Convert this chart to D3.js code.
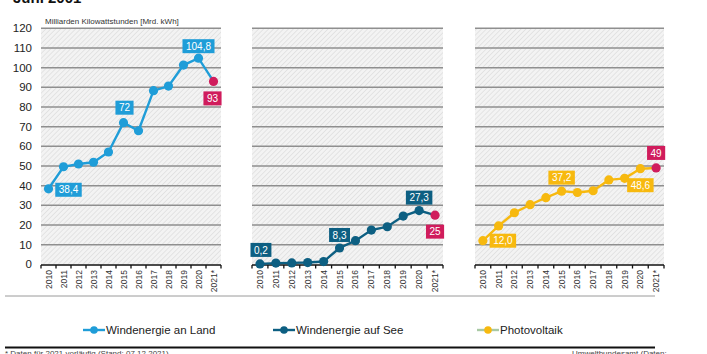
<!DOCTYPE html>
<html>
<head>
<meta charset="utf-8">
<script src="https://cdn.jsdelivr.net/npm/d3@7"></script>
<style>
  body { margin: 0; background: #fff; }
  svg { display: block; font-family: "Liberation Sans", Arial, sans-serif; }
</style>
</head>
<body>
<div id="chart"></div>
<script>
// data
var years = ["2010", "2011", "2012", "2013", "2014", "2015", "2016", "2017", "2018", "2019", "2020", "2021*"];
var windLand = [38.4, 49.6, 51, 51.9, 57.1, 72, 67.9, 88.3, 90.6, 101.3, 104.8, 93];
var windSee = [0.2, 0.6, 0.7, 0.9, 1.4, 8.3, 12, 17.4, 19.1, 24.5, 27.3, 25];
var solar = [12.0, 19.5, 26.2, 30.3, 33.9, 37.2, 36.5, 37.4, 42.9, 43.7, 48.6, 49];
var yTicks = [0, 10, 20, 30, 40, 50, 60, 70, 80, 90, 100, 110, 120];
var landLabels = ["38,4", "72", "104,8", "93"];
var seeLabels = ["0,2", "8,3", "27,3", "25"];
var solarLabels = ["12,0", "37,2", "48,6", "49"];

var width = 707, height = 354;
var magenta = "#d01c5c";

var svg = d3.select("#chart").append("svg")
    .attr("width", width)
    .attr("height", height);

// hatched background pattern
var defs = svg.append("defs");
var pat = defs.append("pattern")
    .attr("id", "hatch")
    .attr("patternUnits", "userSpaceOnUse")
    .attr("width", 3.5).attr("height", 3.5)
    .attr("patternTransform", "rotate(45)");
pat.append("rect").attr("width", 3.5).attr("height", 3.5).attr("fill", "#f3f3f3");
pat.append("line").attr("x1", 0).attr("y1", 0).attr("x2", 0).attr("y2", 3.5)
    .attr("stroke", "#d6d6d6").attr("stroke-width", 1.1);

var y = d3.scaleLinear().domain([0, 120]).range([264.3, 28.3]);

// clipped title at the very top
svg.append("text")
    .attr("x", 13).attr("y", 3)
    .attr("font-size", 15).attr("font-weight", "bold")
    .attr("fill", "#111")
    .text("Juni 2001");

// y axis labels
svg.append("g").selectAll("text")
    .data(yTicks)
    .enter().append("text")
    .attr("x", 32)
    .attr("y", function(d) { return y(d); })
    .attr("dy", "0.35em")
    .attr("text-anchor", "end")
    .attr("font-size", 11.5)
    .attr("fill", "#222")
    .text(function(d) { return d; });

svg.append("text")
    .attr("x", 45).attr("y", 24)
    .attr("font-size", 8)
    .attr("fill", "#333")
    .text("Milliarden Kilowattstunden [Mrd. kWh]");

var panels = [
    { x0: 41, x1: 221, values: windLand, color: "#1f9dd8", labels: landLabels,
      spots: [{ i: 0, dx: 20, dy: 1 }, { i: 5, dx: 1, dy: -15 }, { i: 10, dx: 0, dy: -12 }, { i: 11, dx: -1, dy: 17 }] },
    { x0: 252, x1: 443, values: windSee, color: "#0d5f82", labels: seeLabels,
      spots: [{ i: 0, dx: 1, dy: -14 }, { i: 5, dx: 0, dy: -13 }, { i: 10, dx: 0, dy: -13 }, { i: 11, dx: 0, dy: 16.5 }] },
    { x0: 475, x1: 664, values: solar, color: "#f7b90f", labels: solarLabels,
      spots: [{ i: 0, dx: 20, dy: 0 }, { i: 5, dx: 0, dy: -13.5 }, { i: 10, dx: 0, dy: 16.5 }, { i: 11, dx: 0, dy: -15 }] }
];

panels.forEach(function(p) {
    var x = d3.scaleBand().domain(years).range([p.x0, p.x1]);
    var cx = function(d, i) { return x(years[i]) + x.bandwidth() / 2; };
    var g = svg.append("g");

    g.append("rect")
        .attr("x", p.x0).attr("y", y(120))
        .attr("width", p.x1 - p.x0).attr("height", y(0) - y(120))
        .attr("fill", "url(#hatch)");

    g.selectAll("line.grid")
        .data(yTicks.slice(1))
        .enter().append("line")
        .attr("class", "grid")
        .attr("x1", p.x0).attr("x2", p.x1)
        .attr("y1", function(d) { return y(d); })
        .attr("y2", function(d) { return y(d); })
        .attr("stroke", "#8f8f8f")
        .attr("stroke-width", 1.5);

    // x axis with ticks at band edges
    var ax = g.append("g").attr("transform", "translate(0," + (y(0) + 0.7) + ")");
    ax.append("line").attr("x1", p.x0).attr("x2", p.x1)
        .attr("stroke", "#111").attr("stroke-width", 1.6);
    ax.selectAll("line.tick")
        .data(d3.range(years.length + 1))
        .enter().append("line")
        .attr("class", "tick")
        .attr("x1", function(d) { return p.x0 + d * x.step(); })
        .attr("x2", function(d) { return p.x0 + d * x.step(); })
        .attr("y1", 0).attr("y2", 3.5)
        .attr("stroke", "#111").attr("stroke-width", 1.3);
    ax.selectAll("text")
        .data(years)
        .enter().append("text")
        .attr("transform", function(d) {
            return "translate(" + (x(d) + x.bandwidth() / 2 + 3) + ",5) rotate(-90)";
        })
        .attr("text-anchor", "end")
        .attr("font-family", "'Liberation Sans Narrow', 'Liberation Sans', sans-serif")
        .attr("font-size", 8.5)
        .attr("fill", "#333")
        .text(function(d) { return d; });

    // line
    var line = d3.line()
        .x(function(d, i) { return cx(d, i); })
        .y(function(d) { return y(d); });
    g.append("path")
        .datum(p.values)
        .attr("d", line)
        .attr("fill", "none")
        .attr("stroke", p.color)
        .attr("stroke-width", 2.4);

    g.selectAll("circle")
        .data(p.values)
        .enter().append("circle")
        .attr("cx", cx)
        .attr("cy", function(d) { return y(d); })
        .attr("r", 4.6)
        .attr("fill", function(d, i) { return i === years.length - 1 ? magenta : p.color; });

    // value boxes
    p.spots.forEach(function(s, k) {
        var px = cx(p.values[s.i], s.i) + s.dx;
        var py = y(p.values[s.i]) + s.dy;
        var t = g.append("text")
            .attr("x", px).attr("y", py)
            .attr("dy", "0.36em")
            .attr("text-anchor", "middle")
            .attr("font-size", 10)
            .attr("fill", "#fff")
            .text(p.labels[k]);
        var w = t.node().getComputedTextLength() + 7;
        g.insert("rect", function() { return t.node(); })
            .attr("x", px - w / 2).attr("y", py - 7)
            .attr("width", w).attr("height", 14)
            .attr("fill", s.i === years.length - 1 ? magenta : p.color);
    });
});

// thin separator under the year labels
svg.append("line")
    .attr("x1", 5).attr("x2", 655).attr("y1", 296).attr("y2", 296)
    .attr("stroke", "#9a9a9a").attr("stroke-width", 1);

// legend
var legendItems = [
    { name: "Windenergie an Land", color: "#1f9dd8", lineColor: "#1f9dd8", x: 83 },
    { name: "Windenergie auf See", color: "#0d5f82", lineColor: "#0d5f82", x: 273 },
    { name: "Photovoltaik", color: "#f7b90f", lineColor: "#a9c9a4", x: 477 }
];
var lg = svg.append("g").selectAll("g")
    .data(legendItems)
    .enter().append("g")
    .attr("transform", function(d) { return "translate(" + d.x + ",330)"; });
lg.append("line").attr("x1", 0).attr("x2", 22)
    .attr("stroke", function(d) { return d.lineColor; }).attr("stroke-width", 2.4);
lg.append("circle").attr("cx", 11).attr("r", 3.8)
    .attr("fill", function(d) { return d.color; });
lg.append("text").attr("x", 23).attr("dy", "0.35em")
    .attr("font-size", 11.5).attr("fill", "#222")
    .text(function(d) { return d.name; });

// bottom rule and footnote
svg.append("line")
    .attr("x1", 5).attr("x2", 655).attr("y1", 347.5).attr("y2", 347.5)
    .attr("stroke", "#111").attr("stroke-width", 2);
svg.append("text")
    .attr("x", 5).attr("y", 356)
    .attr("font-size", 8).attr("fill", "#444")
    .text("* Daten für 2021 vorläufig (Stand: 07.12.2021)");
svg.append("text")
    .attr("x", 572).attr("y", 356)
    .attr("font-size", 8).attr("fill", "#444")
    .text("Umweltbundesamt (Daten:");
</script>
</body>
</html>
